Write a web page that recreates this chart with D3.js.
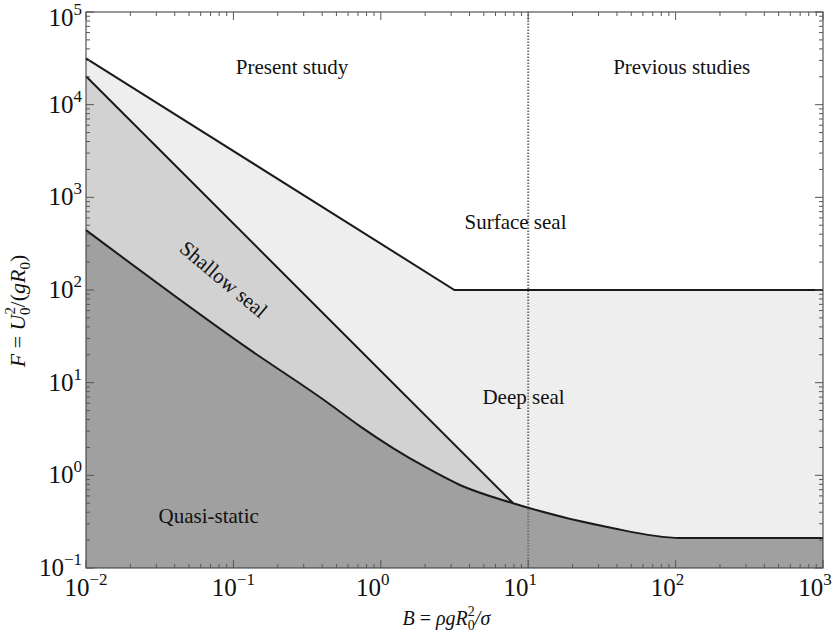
<!DOCTYPE html>
<html>
<head>
<meta charset="utf-8">
<script src="https://cdn.jsdelivr.net/npm/d3@7"></script>
<style>
  body { margin: 0; background: #fff; }
  text { font-family: "Liberation Serif", "Times New Roman", "DejaVu Serif", serif; fill: #111; }
</style>
</head>
<body>
<div id="chart"></div>
<script>
// boundary between deep seal and surface seal: [B, F]
const surfaceLine = [[0.01, 31600], [3.16, 100], [1000, 100]]
// boundary between shallow seal and deep seal
const shallowLine = [[0.01, 20300], [7.9, 0.5]]
// quasi-static boundary
const quasiLine = [
  [0.01, 443], [0.124, 23.7], [0.43, 6.18], [0.72, 3.4], [1.21, 1.97],
  [2.06, 1.2], [3.44, 0.787], [7.9, 0.5], [34.4, 0.277], [107, 0.211], [1000, 0.211]
]
const dividerB = 10
const xTickPowers = [-2, -1, 0, 1, 2, 3]
const yTickPowers = [-1, 0, 1, 2, 3, 4, 5]
const regionLabels = [
  {text: 'Present study', B: 0.25, F: 2.6e4, rot: 0},
  {text: 'Previous studies', B: 110, F: 2.6e4, rot: 0},
  {text: 'Surface seal', B: 8.2, F: 540, rot: 0},
  {text: 'Deep seal', B: 9.3, F: 7.1, rot: 0},
  {text: 'Shallow seal', B: 0.086, F: 131, rot: 40},
  {text: 'Quasi-static', B: 0.068, F: 0.37, rot: 0}
]

const outerWidth = 836
const outerHeight = 635
const margin = {top: 12, right: 13, bottom: 67, left: 86}
const width = outerWidth - margin.left - margin.right
const height = outerHeight - margin.top - margin.bottom

const raw = d3.select('#chart')
  .append('svg')
  .attr('width', outerWidth)
  .attr('height', outerHeight)
const svg = raw.append('g')
  .attr('transform', `translate(${margin.left},${margin.top})`)

const xs = d3.scaleLog().domain([0.01, 1000]).range([0, width])
const ys = d3.scaleLog().domain([0.1, 1e5]).range([height, 0])

const line = d3.line().x((d) => xs(d[0])).y((d) => ys(d[1]))
const curve = d3.line().x((d) => xs(d[0])).y((d) => ys(d[1])).curve(d3.curveMonotoneX)
const [xMin, xMax] = xs.domain()
const [yMin, yMax] = ys.domain()

// fills, stacked from light to dark
svg.append('rect')
  .attr('width', width).attr('height', height)
  .attr('fill', '#fff')
svg.append('path')
  .attr('d', line(surfaceLine.concat([[xMax, yMin], [xMin, yMin]])) + 'Z')
  .attr('fill', '#eeeeee')
const sEnd = shallowLine[shallowLine.length - 1]
svg.append('path')
  .attr('d', line(shallowLine.concat([[sEnd[0], yMin], [xMin, yMin]])) + 'Z')
  .attr('fill', '#d2d2d2')
svg.append('path')
  .attr('d', curve(quasiLine) + `L${xs(xMax)},${ys(yMin)}L${xs(xMin)},${ys(yMin)}Z`)
  .attr('fill', '#a0a0a0')

// dotted divider between present and previous studies
svg.append('path')
  .attr('d', line([[dividerB, yMin], [dividerB, yMax]]))
  .attr('stroke', '#707070')
  .attr('stroke-width', 2)
  .attr('stroke-dasharray', '1.5 1.5')

// boundaries
const bStyle = (p) => p.attr('fill', 'none').attr('stroke', '#1a1a1a').attr('stroke-width', 2)
svg.append('path').attr('d', line(surfaceLine)).call(bStyle)
svg.append('path').attr('d', line(shallowLine)).call(bStyle)
svg.append('path').attr('d', curve(quasiLine)).call(bStyle)

// frame and inward ticks on every side
svg.append('rect')
  .attr('width', width).attr('height', height)
  .attr('fill', 'none').attr('stroke', '#333').attr('stroke-width', 1)

const isMajor = (v) => Math.abs(Math.log10(v) - Math.round(Math.log10(v))) < 1e-6
const ticks = svg.append('g').attr('stroke', '#555').attr('stroke-width', 1)
xs.ticks().forEach((v) => {
  const x = xs(v)
  const len = isMajor(v) ? 8 : 4
  ticks.append('path').attr('d', `M${x},${height}V${height - len}M${x},0V${len}`)
})
ys.ticks().forEach((v) => {
  const y = ys(v)
  const len = isMajor(v) ? 8 : 4
  ticks.append('path').attr('d', `M0,${y}H${len}M${width},${y}H${width - len}`)
})

// tick labels 10^n
const pow = (sel, p) => {
  sel.append('tspan').text('10')
  sel.append('tspan').attr('dy', -11).style('font-size', '17px')
    .text(p < 0 ? '\u2212' + (-p) : p)
}
xTickPowers.forEach((p) => {
  svg.append('text')
    .attr('x', xs(Math.pow(10, p)) - (p < 0 ? 0 : 8))
    .attr('y', height + 28)
    .attr('text-anchor', 'middle')
    .style('font-size', '25px')
    .call(pow, p)
})
yTickPowers.forEach((p) => {
  svg.append('text')
    .attr('x', -4)
    .attr('y', Math.max(ys(Math.pow(10, p)) + 8, 14))
    .attr('text-anchor', 'end')
    .style('font-size', '25px')
    .call(pow, p)
})

// axis titles
const xt = svg.append('text')
  .attr('x', width / 2 - 52)
  .attr('y', height + 57)
  .style('font-size', '20px')
  .style('font-style', 'italic')
xt.append('tspan').text('B')
xt.append('tspan').style('font-style', 'normal').text(' = ')
xt.append('tspan').text('\u03c1gR')
xt.append('tspan').attr('dy', -9).style('font-size', '14px').style('font-style', 'normal').text('2')
xt.append('tspan').attr('dx', -7).attr('dy', 14).style('font-size', '14px').style('font-style', 'normal').text('0')
xt.append('tspan').attr('dy', -5).text('/\u03c3')

const yt = svg.append('text')
  .attr('transform', `translate(${-61},${height / 2 + 21}) rotate(-90)`)
  .attr('text-anchor', 'middle')
  .style('font-size', '22px')
  .style('font-style', 'italic')
yt.append('tspan').text('F')
yt.append('tspan').style('font-style', 'normal').text(' = ')
yt.append('tspan').text('U')
yt.append('tspan').attr('dy', -10).style('font-size', '15px').style('font-style', 'normal').text('2')
yt.append('tspan').attr('dx', -8).attr('dy', 15).style('font-size', '15px').style('font-style', 'normal').text('0')
yt.append('tspan').attr('dy', -5).style('font-style', 'normal').text('/(')
yt.append('tspan').text('gR')
yt.append('tspan').attr('dy', 5).style('font-size', '15px').style('font-style', 'normal').text('0')
yt.append('tspan').attr('dy', -5).style('font-style', 'normal').text(')')

// region labels
regionLabels.forEach((d) => {
  svg.append('text')
    .attr('transform', `translate(${xs(d.B)},${ys(d.F)}) rotate(${d.rot})`)
    .attr('text-anchor', 'middle')
    .attr('dy', '0.35em')
    .style('font-size', '21px')
    .text(d.text)
})
</script>
</body>
</html>
